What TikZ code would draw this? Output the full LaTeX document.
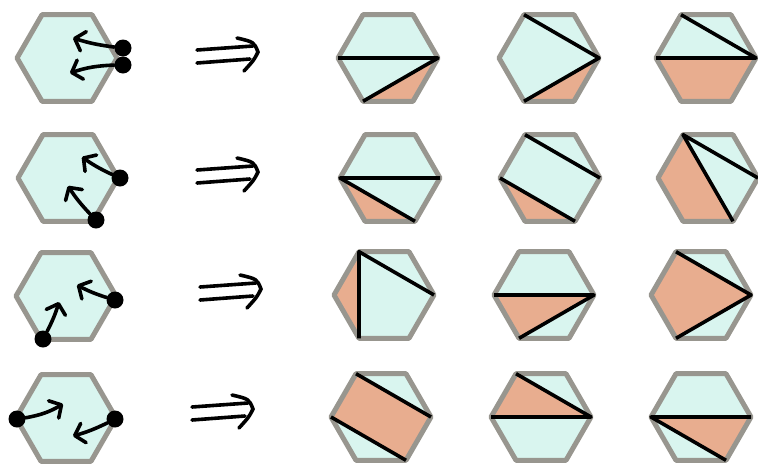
\documentclass[tikz,border=0pt]{standalone}
\usetikzlibrary{arrows.meta}
\definecolor{mint}{RGB}{217,245,239}
\definecolor{salmon}{RGB}{232,173,143}
\definecolor{rim}{RGB}{152,150,143}
\tikzset{
  hexfill/.style={fill=mint},
  hexrim/.style={draw=rim,line width=5pt,line join=round},
  part/.style={fill=salmon},
  chord/.style={draw=black,line width=3.6pt,line join=round},
  dot/.style={circle,fill=black,inner sep=0pt,minimum size=17pt},
  move/.style={-{Straight Barb[length=9pt,width=20pt,round]},line width=3.6pt,line cap=round},
  thick stroke/.style={line width=3.6pt,line cap=round},
}
% six corners of a flat-topped hexagon
\newcommand{\hexpts}[3]{%
  \coordinate (#1) at (#2,#3);
  \foreach \a/\v in {0/R,60/BR,120/BL,180/L,240/TL,300/TR}
    \coordinate (#1-\v) at ([shift={(\a:50)}]#1);
}
% hand drawn double arrow
\newcommand{\thenat}[2]{%
  \begin{scope}[shift={(#1,#2)}]
    \draw[thick stroke] (197,50) -- (253,46);
    \draw[thick stroke] (197,63) -- (250,59);
    \draw[thick stroke] (237,38) .. controls (254,42) .. (258,52) .. controls (254,60) .. (244,71);
  \end{scope}
}

\begin{document}
\begin{tikzpicture}[x=1pt,y=-1pt]
  \useasboundingbox (0,0) rectangle (758,464);

  \hexpts{q1}{67}{58}   \hexpts{r11}{388}{58}  \hexpts{r12}{549}{58}  \hexpts{r13}{706}{58}
  \hexpts{q2}{68}{178}  \hexpts{r21}{390}{178} \hexpts{r22}{550}{178} \hexpts{r23}{708}{178}
  \hexpts{q3}{66}{296}  \hexpts{r31}{384}{295} \hexpts{r32}{544}{295} \hexpts{r33}{701}{295}
  \hexpts{q4}{66}{418}  \hexpts{r41}{381}{417} \hexpts{r42}{541}{417} \hexpts{r43}{701}{417}

  \foreach \h in {q1,r11,r12,r13,q2,r21,r22,r23,q3,r31,r32,r33,q4,r41,r42,r43}
    \fill[hexfill] (\h-R) -- (\h-BR) -- (\h-BL) -- (\h-L) -- (\h-TL) -- (\h-TR) -- cycle;

  % shaded parts
  \fill[part] (r11-R) -- (r11-BR) -- (r11-BL) -- cycle;
  \fill[part] (r12-R) -- (r12-BR) -- (r12-BL) -- cycle;
  \fill[part] (r13-L) -- (r13-R) -- (r13-BR) -- (r13-BL) -- cycle;
  \fill[part] (r21-L) -- (r21-BL) -- (r21-BR) -- cycle;
  \fill[part] (r22-L) -- (r22-BL) -- (r22-BR) -- cycle;
  \fill[part] (r23-TL) -- (r23-L) -- (r23-BL) -- (r23-BR) -- cycle;
  \fill[part] (r31-TL) -- (r31-L) -- (r31-BL) -- cycle;
  \fill[part] (r32-L) -- (r32-R) -- (r32-BL) -- cycle;
  \fill[part] (r33-TL) -- (r33-R) -- (r33-BL) -- (r33-L) -- cycle;
  \fill[part] (r41-TL) -- (r41-R) -- (r41-BR) -- (r41-L) -- cycle;
  \fill[part] (r42-TL) -- (r42-R) -- (r42-L) -- cycle;
  \fill[part] (r43-L) -- (r43-R) -- (r43-BR) -- cycle;

  \foreach \h in {q1,r11,r12,r13,q2,r21,r22,r23,q3,r31,r32,r33,q4,r41,r42,r43}
    \draw[hexrim] (\h-R) -- (\h-BR) -- (\h-BL) -- (\h-L) -- (\h-TL) -- (\h-TR) -- cycle;

  % chords
  \draw[chord] (r11-L) -- (r11-R) -- (r11-BL);
  \draw[chord] (r12-TL) -- (r12-R) -- (r12-BL);
  \draw[chord] (r13-TL) -- (r13-R) -- (r13-L);
  \draw[chord] (r21-R) -- (r21-L) -- (r21-BR);
  \draw[chord] (r22-TL) -- (r22-R);
  \draw[chord] (r22-L) -- (r22-BR);
  \draw[chord] (r23-R) -- (r23-TL) -- (r23-BR);
  \draw[chord] (r31-BL) -- (r31-TL) -- (r31-R);
  \draw[chord] (r32-L) -- (r32-R) -- (r32-BL);
  \draw[chord] (r33-TL) -- (r33-R) -- (r33-BL);
  \draw[chord] (r41-TL) -- (r41-R);
  \draw[chord] (r41-L) -- (r41-BR);
  \draw[chord] (r42-TL) -- (r42-R) -- (r42-L);
  \draw[chord] (r43-R) -- (r43-L) -- (r43-BR);

  % moves
  \node[dot] (d1a) at (123,48) {};
  \node[dot] (d1b) at (123,65) {};
  \coordinate (t1a) at (73,38);
  \coordinate (t1b) at (70,73);
  \draw[move] (d1a) to[bend left=5] (t1a);
  \draw[move] (d1b) to[bend right=8] (t1b);

  \node[dot] (d2a) at (120,178) {};
  \node[dot] (d2b) at (96,220) {};
  \coordinate (t2a) at (82,157);
  \coordinate (t2b) at (68,186);
  \draw[move] (d2a) to[bend left=5] (t2a);
  \draw[move] (d2b) to[bend left=5] (t2b);

  \node[dot] (d3a) at (115,300) {};
  \node[dot] (d3b) at (43,339) {};
  \coordinate (t3a) at (77,285);
  \coordinate (t3b) at (59,302);
  \draw[move] (d3a) to[bend left=5] (t3a);
  \draw[move] (d3b) to[bend right=5] (t3b);

  \node[dot] (d4a) at (17,419) {};
  \node[dot] (d4b) at (115,419) {};
  \coordinate (t4a) at (63,404);
  \coordinate (t4b) at (73,436);
  \draw[move] (d4a) to[bend right=10] (t4a);
  \draw[move] (d4b) to[bend left=5] (t4b);

  \thenat{0}{0}
  \thenat{0}{120}
  \thenat{3}{237}
  \thenat{-5}{357}
\end{tikzpicture}
\end{document}
